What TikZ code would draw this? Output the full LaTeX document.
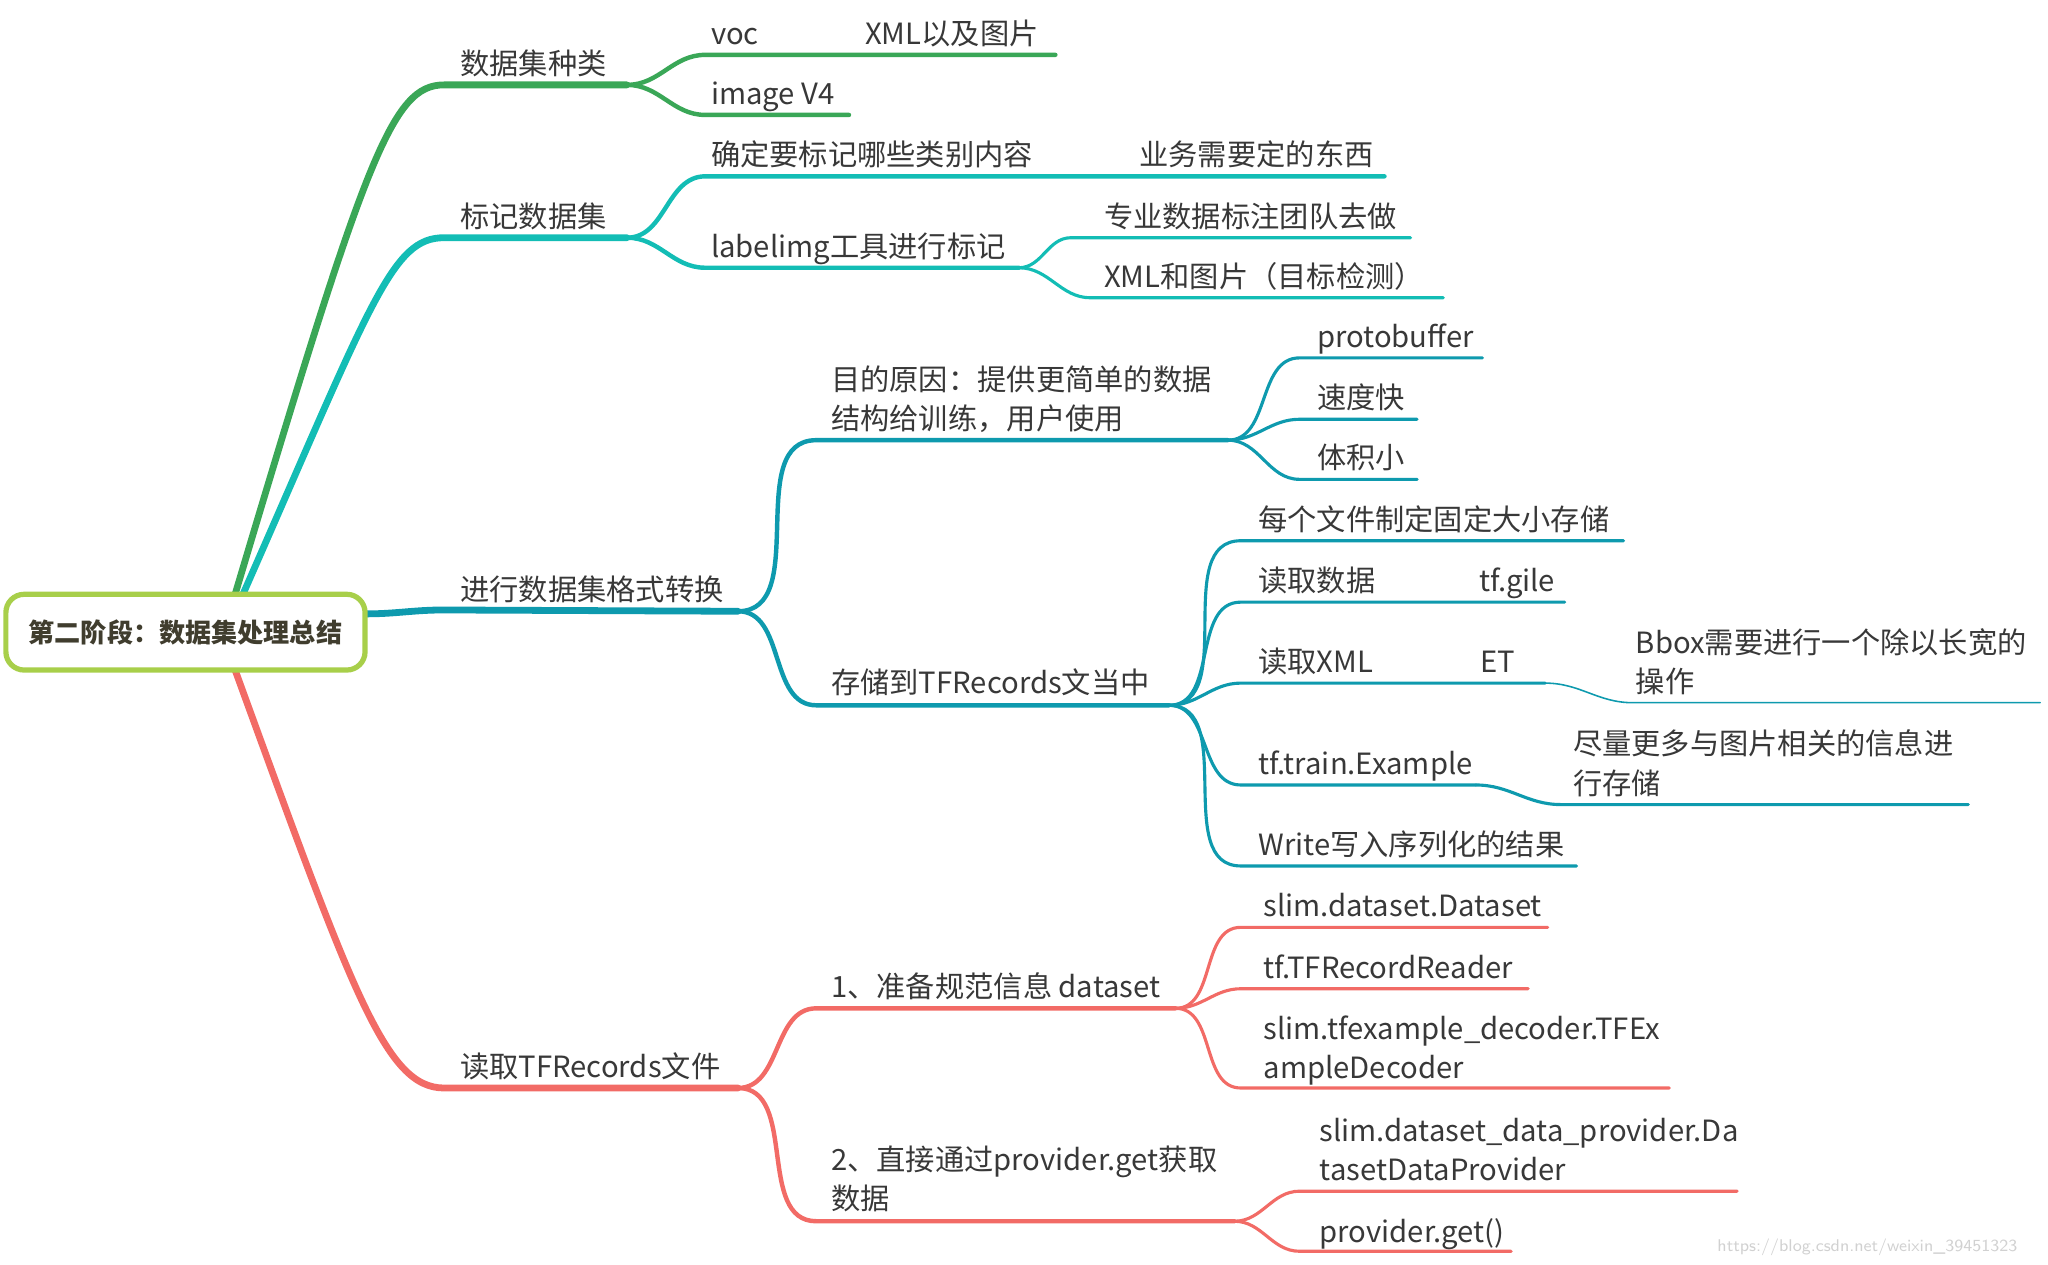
\documentclass[tikz,border=0pt]{standalone}
\usepackage{fontspec}
\setmainfont{Noto Sans CJK SC}
\begin{document}
\begin{tikzpicture}[x=0.5pt,y=-0.5pt,line cap=round,
 t/.style={anchor=base west,inner sep=0pt,text=black!78,font=\fontsize{11.2}{15}\selectfont,align=left},
 b1/.style={line width=2.6pt},
 b2/.style={line width=1.7pt},
 b3/.style={line width=1.2pt}]
\definecolor{cg}{RGB}{58,167,87}
\definecolor{cc}{RGB}{19,189,181}
\definecolor{cb}{RGB}{14,154,174}
\definecolor{cr}{RGB}{242,107,102}
\definecolor{rb}{RGB}{168,207,74}
\useasboundingbox (0,0) rectangle (1568,968);
% level 1 coordinates
\coordinate (g0) at (180,455); \coordinate (g1) at (340,65); \coordinate (g2) at (480,65);
\coordinate (c0) at (186,455); \coordinate (c1) at (340,182); \coordinate (c2) at (480,182);
\coordinate (u0) at (280,470); \coordinate (u1) at (340,467); \coordinate (u2) at (565,468);
\coordinate (r0) at (180,513); \coordinate (r1) at (340,833); \coordinate (r2) at (565,833);
\draw[cg,b1] (g0) .. controls (280,120) and (300,65) .. (g1) -- (g2);
\draw[cc,b1] (c0) .. controls (285,230) and (300,182) .. (c1) -- (c2);
\draw[cb,b1] (u0) to[out=0,in=180] (u1) -- (u2);
\draw[cr,b1] (r0) .. controls (270,760) and (295,833) .. (r1) -- (r2);
\node[t] (n1) at (352,57) {数据集种类};
\node[t] (n2) at (352,174) {标记数据集};
\node[t] (n3) at (352,460) {进行数据集格式转换};
\node[t] (n4) at (352,825) {读取TFRecords文件};
% green children
\coordinate (g3) at (540,42); \coordinate (g4) at (808,42);
\coordinate (g5) at (540,88); \coordinate (g6) at (650,88);
\draw[cg,b2] (g2) to[out=0,in=180] (g3) -- (g4);
\draw[cg,b2] (g2) to[out=0,in=180] (g5) -- (g6);
\node[t] (voc) at (544,34) {voc};
\node[t] (xml1) at (662,34) {XML以及图片};
\node[t] (img) at (544,80) {image V4};
% cyan children
\coordinate (c3) at (540,135); \coordinate (c4) at (1060,135);
\coordinate (c5) at (540,205); \coordinate (c6) at (780,205);
\coordinate (c7) at (820,182); \coordinate (c8) at (1080,182);
\coordinate (c9) at (835,228); \coordinate (c10) at (1105,228);
\draw[cc,b2] (c2) to[out=0,in=180] (c3) -- (c4);
\draw[cc,b2] (c2) to[out=0,in=180] (c5) -- (c6);
\draw[cc,b3] (c6) to[out=0,in=180] (c7) -- (c8);
\draw[cc,b3] (c6) to[out=0,in=180] (c9) -- (c10);
\node[t] (qd) at (544,127) {确定要标记哪些类别内容};
\node[t] (yw) at (872,127) {业务需要定的东西};
\node[t] (lb) at (544,197) {labelimg工具进行标记};
\node[t] (zy) at (845,174) {专业数据标注团队去做};
\node[t] (xm) at (845,220) {XML和图片（目标检测）};
% blue children
\coordinate (u3) at (625,337); \coordinate (u4) at (940,337);
\coordinate (u5) at (625,540); \coordinate (u6) at (895,540);
\draw[cb,b2] (u2) to[out=0,in=180] (u3) -- (u4);
\draw[cb,b2] (u2) to[out=0,in=180] (u5) -- (u6);
\node[t] (md) at (636,329) {目的原因：提供更简单的数据\\结构给训练，用户使用};
\node[t] (cc1) at (636,531) {存储到TFRecords文当中};
\foreach \y/\e/\nm/\tx in {274/1135/pb/protobuffer,321/1085/sd/速度快,367/1085/tj/体积小}{
 \draw[cb,b3] (u4) to[out=0,in=180] (995,\y) -- (\e,\y);
 \node[t] (\nm) at (1008,\y-8) {\tx};}
\foreach \y/\e/\nm/\tx in {414/1243/mg/每个文件制定固定大小存储,461/1198/dq/读取数据,523/1183/dx/读取XML,601/1130/te/tf.train.Example,663/1207/wr/Write写入序列化的结果}{
 \draw[cb,b3] (u6) to[out=0,in=180] (950,\y) -- (\e,\y);
 \node[t] (\nm) at (963,\y-8) {\tx};}
\node[t] (tg) at (1132,453) {tf.gile};
\node[t] (et) at (1133,515) {ET};
\coordinate (x1) at (1183,523); \coordinate (x2) at (1250,538); \coordinate (x3) at (1562,538);
\draw[cb,line width=0.6pt] (x1) to[out=0,in=180] (x2) -- (x3);
\node[t] (bb) at (1252,530) {Bbox需要进行一个除以长宽的\\操作};
\coordinate (e1) at (1130,601); \coordinate (e2) at (1195,616); \coordinate (e3) at (1507,616);
\draw[cb,b3] (e1) to[out=0,in=180] (e2) -- (e3);
\node[t] (jl) at (1204,608) {尽量更多与图片相关的信息进\\行存储};
% red children
\coordinate (r3) at (625,772); \coordinate (r4) at (900,772);
\coordinate (r5) at (625,935); \coordinate (r6) at (945,935);
\draw[cr,b2] (r2) to[out=0,in=180] (r3) -- (r4);
\draw[cr,b2] (r2) to[out=0,in=180] (r5) -- (r6);
\node[t] (zb) at (636,764) {1、准备规范信息 dataset};
\node[t] (zj) at (636,926) {2、直接通过provider.get获取\\数据};
\foreach \y/\e/\nm/\tx/\yy in {710/1185/sdd/slim.dataset.Dataset/702,757/1170/tfr/tf.TFRecordReader/749,833/1278/ted/{slim.tfexample\_decoder.TFEx\\ampleDecoder}/826}{
 \draw[cr,b3] (r4) to[out=0,in=180] (950,\y) -- (\e,\y);
 \node[t] (\nm) at (967,\yy) {\tx};}
\foreach \y/\e/\nm/\tx/\yy in {912/1330/ddp/{slim.dataset\_data\_provider.Da\\tasetDataProvider}/904,958/1157/pg/provider.get()/951}{
 \draw[cr,b3] (r6) to[out=0,in=180] (995,\y) -- (\e,\y);
 \node[t] (\nm) at (1010,\yy) {\tx};}
% root
\node[draw=rb,line width=2pt,rounded corners=7pt,fill=white,minimum width=275*0.5pt,minimum height=58*0.5pt,text=black!60!olive!70!black,font=\fontsize{10}{12}\selectfont\bfseries] (root) at (142,484) {第二阶段：数据集处理总结};
\node[anchor=east,inner sep=0pt,text=black!18,font=\fontsize{6.5}{8}\selectfont\sffamily] (wm) at (1545,955) {https://blog.csdn.net/weixin\_39451323};
\end{tikzpicture}
\end{document}
